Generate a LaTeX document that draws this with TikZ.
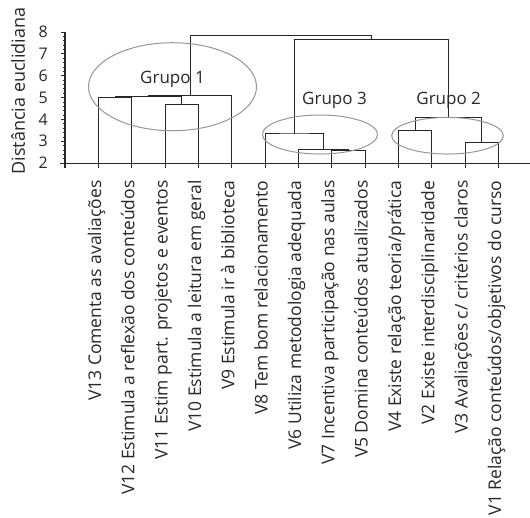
\documentclass[tikz,border=0pt]{standalone}
\usepackage{fontspec}
\setmainfont{Open Sans}
\usetikzlibrary{calc}
\definecolor{inkgray}{RGB}{40,40,40}
\definecolor{ringgray}{RGB}{150,150,150}
\newcommand{\linecolor}{inkgray}
\newcommand{\ringcolor}{ringgray}
\newcommand{\thickness}{1pt}
\newcommand{\tk}{0.13}
\newcommand{\mk}{0.075}
\tikzset{
  leaf/.style={rotate=90,anchor=mid east,inner sep=0pt,text=inkgray,
    font=\fontsize{17.5}{17.5}\selectfont},
  ticklabel/.style={anchor=east,inner sep=0pt,text=inkgray,
    font=\fontsize{16}{16}\selectfont},
  grouplabel/.style={inner sep=0pt,text=inkgray,font=\fontsize{17}{17}\selectfont}
}

\begin{document}
\begin{tikzpicture}[x=33.33pt,y=21.83pt,line width=\thickness]
\useasboundingbox (-1.95,-14.22) rectangle (13.95,9.467);
% leaves
\coordinate (v13) at (1,2);
\coordinate (v12) at (2,2);
\coordinate (v11) at (3,2);
\coordinate (v10) at (4,2);
\coordinate (v9) at (5,2);
\coordinate (v8) at (6,2);
\coordinate (v6) at (7,2);
\coordinate (v7) at (8,2);
\coordinate (v5) at (9,2);
\coordinate (v4) at (10,2);
\coordinate (v2) at (11,2);
\coordinate (v3) at (12,2);
\coordinate (v1) at (13,2);
% joins
\coordinate (j1312) at (1.5,4.99);
\coordinate (j1110) at (3.5,4.70);
\coordinate (j1310) at (2.5,5.05);
\coordinate (g1) at (3.75,5.11);
\coordinate (j75) at (8.5,2.58);
\coordinate (j65) at (7.75,2.60);
\coordinate (g3) at (6.875,3.33);
\coordinate (j42) at (10.5,3.48);
\coordinate (j31) at (12.5,2.93);
\coordinate (g2) at (11.5,4.09);
\coordinate (g32) at (9.1875,7.67);
\coordinate (top) at (6.47,7.82);
% axes
\draw[\linecolor] (-0.15,2) -- (13.95,2);
\draw[\linecolor] (0,1.77) -- (0,8);
\draw[\linecolor] (0,8) -- (-\tk,8) (0,7) -- (-\tk,7) (0,6) -- (-\tk,6) (0,5) -- (-\tk,5)
  (0,4) -- (-\tk,4) (0,3) -- (-\tk,3);
\draw[\linecolor,line width=0.6pt]
  (0,7.2) -- (-\mk,7.2) (0,7.4) -- (-\mk,7.4) (0,7.6) -- (-\mk,7.6) (0,7.8) -- (-\mk,7.8)
  (0,6.2) -- (-\mk,6.2) (0,6.4) -- (-\mk,6.4) (0,6.6) -- (-\mk,6.6) (0,6.8) -- (-\mk,6.8)
  (0,5.2) -- (-\mk,5.2) (0,5.4) -- (-\mk,5.4) (0,5.6) -- (-\mk,5.6) (0,5.8) -- (-\mk,5.8)
  (0,4.2) -- (-\mk,4.2) (0,4.4) -- (-\mk,4.4) (0,4.6) -- (-\mk,4.6) (0,4.8) -- (-\mk,4.8)
  (0,3.2) -- (-\mk,3.2) (0,3.4) -- (-\mk,3.4) (0,3.6) -- (-\mk,3.6) (0,3.8) -- (-\mk,3.8)
  (0,2.2) -- (-\mk,2.2) (0,2.4) -- (-\mk,2.4) (0,2.6) -- (-\mk,2.6) (0,2.8) -- (-\mk,2.8);
\node[ticklabel] (y8) at (-0.5,8) {8};
\node[ticklabel] (y7) at (-0.5,7) {7};
\node[ticklabel] (y6) at (-0.5,6) {6};
\node[ticklabel] (y5) at (-0.5,5) {5};
\node[ticklabel] (y4) at (-0.5,4) {4};
\node[ticklabel] (y3) at (-0.5,3) {3};
\node[ticklabel] (y2) at (-0.5,2) {2};
\node[grouplabel,rotate=90,font=\fontsize{18}{18}\selectfont] (ytitle) at (-1.41,5.30) {Distância euclidiana};
% leaf ticks
\draw[\linecolor] (v13) -- +(0,-0.23) (v12) -- +(0,-0.23) (v11) -- +(0,-0.23)
  (v10) -- +(0,-0.23) (v9) -- +(0,-0.23) (v8) -- +(0,-0.23) (v6) -- +(0,-0.23)
  (v7) -- +(0,-0.23) (v5) -- +(0,-0.23) (v4) -- +(0,-0.23) (v2) -- +(0,-0.23)
  (v3) -- +(0,-0.23) (v1) -- +(0,-0.23);
% leaf labels
\node[leaf] (l13) at (1,1.22) {V13 Comenta as avaliações};
\node[leaf] (l12) at (2,1.22) {V12 Estimula a reflexão dos conteúdos};
\node[leaf] (l11) at (3,1.22) {V11 Estim part. projetos e eventos};
\node[leaf] (l10) at (4,1.22) {V10 Estimula a leitura em geral};
\node[leaf] (l9) at (5,1.22) {V9 Estimula ir à biblioteca};
\node[leaf] (l8) at (6,1.22) {V8 Tem bom relacionamento};
\node[leaf] (l6) at (7,1.22) {V6 Utiliza metodologia adequada};
\node[leaf] (l7) at (8,1.22) {V7 Incentiva participação nas aulas};
\node[leaf] (l5) at (9,1.22) {V5 Domina conteúdos atualizados};
\node[leaf] (l4) at (10,1.22) {V4 Existe relação teoria/prática};
\node[leaf] (l2) at (11,1.22) {V2 Existe interdisciplinaridade};
\node[leaf] (l3) at (12,1.22) {V3 Avaliações c/ critérios claros};
\node[leaf] (l1) at (13,1.22) {V1 Relação conteúdos/objetivos do curso};
%grupo 1
\draw[\linecolor] (v13) |- (j1312) -| (v12);
\draw[\linecolor] (v11) |- (j1110) -| (v10);
\draw[\linecolor] (j1312) |- (j1310) -| (j1110);
\draw[\linecolor] (j1310) |- (g1) -| (v9);
%grupo 3
\draw[\linecolor] (v7) |- (j75) -| (v5);
\draw[\linecolor] (v6) |- (j65) -| (j75);
\draw[\linecolor] (v8) |- (g3) -| (j65);
%grupo 2
\draw[\linecolor] (v4) |- (j42) -| (v2);
\draw[\linecolor] (v3) |- (j31) -| (v1);
\draw[\linecolor] (j42) |- (g2) -| (j31);
%top
\draw[\linecolor] (g3) |- (g32) -| (g2);
\draw[\linecolor] (g1) |- (top) -| (g32);
% rings
\draw[\ringcolor] (3.225,5.495) ellipse [x radius=84pt, y radius=44pt];
\draw[\ringcolor] (7.65,3.306) ellipse [x radius=57.5pt, y radius=19.5pt];
\draw[\ringcolor] (11.475,3.25) ellipse [x radius=55.8pt, y radius=18.3pt];
\node[grouplabel] (grupo1) at (3.225,5.85) {Grupo 1};
\node[grouplabel] (grupo3) at (8.085,4.886) {Grupo 3};
\node[grouplabel] (grupo2) at (11.51,4.886) {Grupo 2};
\end{tikzpicture}
\end{document}
